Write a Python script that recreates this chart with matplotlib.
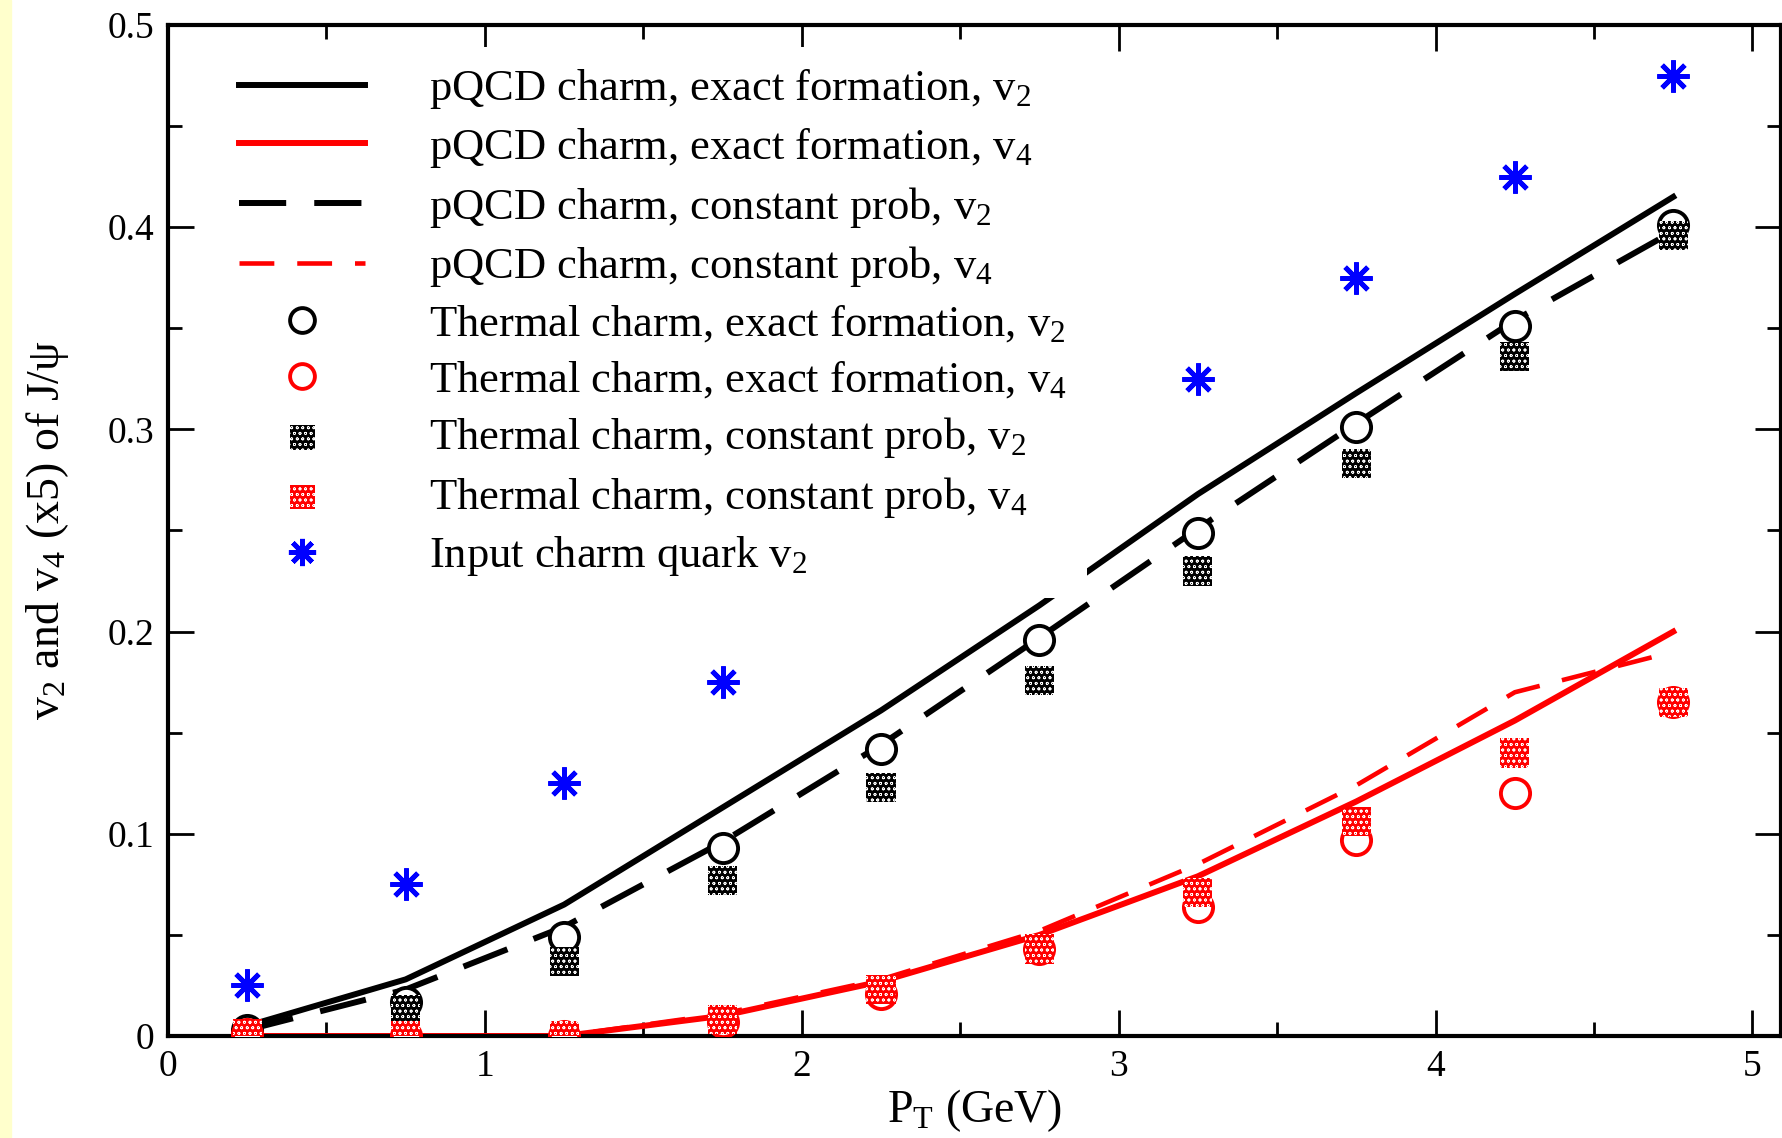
import numpy as np
import matplotlib
matplotlib.use('Agg')
import matplotlib.pyplot as plt
from matplotlib.patches import Rectangle

plt.rcParams['font.family'] = ['Liberation Serif', 'DejaVu Serif']
plt.rcParams['mathtext.fontset'] = 'custom'
plt.rcParams['mathtext.rm'] = 'Liberation Serif'
plt.rcParams['mathtext.default'] = 'regular'
plt.rcParams['hatch.linewidth'] = 0.5

# J/psi flow vs transverse momentum
pt = [0.25, 0.75, 1.25, 1.75, 2.25, 2.75, 3.25, 3.75, 4.25, 4.75]

pqcd_exact_v2 = [0.005, 0.028, 0.065, 0.113, 0.161, 0.213, 0.268, 0.318, 0.367, 0.415]
pqcd_exact_v4 = [0.0, 0.0, 0.0, 0.010, 0.027, 0.050, 0.079, 0.116, 0.156, 0.200]
pqcd_const_v2 = [0.003, 0.023, 0.054, 0.096, 0.144, 0.197, 0.251, 0.303, 0.354, 0.398]
pqcd_const_v4 = [0.0, 0.0, 0.0, 0.011, 0.028, 0.052, 0.085, 0.124, 0.170, 0.190]

thermal_exact_v2 = [0.003, 0.017, 0.049, 0.093, 0.142, 0.196, 0.249, 0.301, 0.351, 0.401]
thermal_exact_v4 = [0.001, 0.0, 0.0, 0.007, 0.021, 0.043, 0.064, 0.097, 0.120, 0.165]
thermal_const_v2 = [0.001, 0.013, 0.037, 0.077, 0.123, 0.176, 0.230, 0.283, 0.336, 0.396]
thermal_const_v4 = [0.001, 0.0, 0.0, 0.008, 0.023, 0.043, 0.071, 0.106, 0.140, 0.165]

charm_v2 = [0.025, 0.075, 0.125, 0.175, 0.225, 0.275, 0.325, 0.375, 0.425, 0.475]

labels = [
    'pQCD charm, exact formation, v$_2$',
    'pQCD charm, exact formation, v$_4$',
    'pQCD charm, constant prob, v$_2$',
    'pQCD charm, constant prob, v$_4$',
    'Thermal charm, exact formation, v$_2$',
    'Thermal charm, exact formation, v$_4$',
    'Thermal charm, constant prob, v$_2$',
    'Thermal charm, constant prob, v$_4$',
    'Input charm quark v$_2$',
]

W, H = 1782, 1138
fig = plt.figure(figsize=(W / 100, H / 100), dpi=100)
fig.patches.append(Rectangle((0, 0), 11 / W, 1, transform=fig.transFigure,
                             color='#ffffcc', zorder=0))
ax = fig.add_axes([168 / W, 1 - 1036 / H, (1781 - 168) / W, (1036 - 25) / H])

lw = 4.3
h1, = ax.plot(pt, pqcd_exact_v2, color='black', lw=lw, zorder=2)
h2, = ax.plot(pt, pqcd_exact_v4, color='red', lw=lw, zorder=2)
h3, = ax.plot(pt, pqcd_const_v2, color='black', lw=lw, ls=(0, (7.9, 4.7)), zorder=2)
h4, = ax.plot(pt, pqcd_const_v4, color='red', lw=3.3, ls=(0, (7.6, 5.0)), zorder=2)

h5, = ax.plot(pt, thermal_exact_v2, ls='none', marker='o', ms=21, mew=2.8,
              mec='black', mfc='white', zorder=3)
h6, = ax.plot(pt, thermal_exact_v4, ls='none', marker='o', ms=21, mew=2.8,
              mec='red', mfc='white', zorder=3)
h7 = ax.scatter(pt, thermal_const_v2, marker='s', s=21 ** 2, facecolor='black',
                edgecolor='white', linewidths=0, hatch='ooo', zorder=4)
h8 = ax.scatter(pt, thermal_const_v4, marker='s', s=21 ** 2, facecolor='red',
                edgecolor='white', linewidths=0, hatch='ooo', zorder=4)
h9, = ax.plot(pt, charm_v2, ls='none', marker=(8, 2, 0), ms=23, mew=3.5,
              mec='blue', zorder=5)

ax.set_xlim(0, 5.09)
ax.set_ylim(0, 0.5)
ax.set_xticks([0, 1, 2, 3, 4, 5])
ax.set_xticks(np.arange(0.5, 5.0, 1.0), minor=True)
ax.set_yticks([0, 0.1, 0.2, 0.3, 0.4, 0.5])
ax.set_yticks(np.arange(0.05, 0.5, 0.1), minor=True)
ax.set_yticklabels(['0', '0.1', '0.2', '0.3', '0.4', '0.5'])
ax.tick_params(which='both', direction='in', top=True, right=True, width=2,
               labelsize=27)
ax.tick_params(which='major', length=19, pad=10)
ax.tick_params(which='minor', length=10)
for s in ax.spines.values():
    s.set_linewidth(3)

ax.set_xlabel('P$_T$ (GeV)', fontsize=33, labelpad=2)
ax.set_ylabel('v$_2$ and v$_4$ (x5) of J/ψ', fontsize=33, labelpad=26)

leg = ax.legend([h1, h2, h3, h4, h5, h6, h7, h8, h9], labels,
                loc='upper left', bbox_to_anchor=(0.018, 1.0),
                fontsize=32, handlelength=2.83, handletextpad=1.45,
                labelspacing=0.33, borderpad=0.45, frameon=True,
                fancybox=False, framealpha=1, edgecolor='none',
                facecolor='white', markerscale=0.85)
leg.set_zorder(10)

fig.savefig('out.png', dpi=100)
